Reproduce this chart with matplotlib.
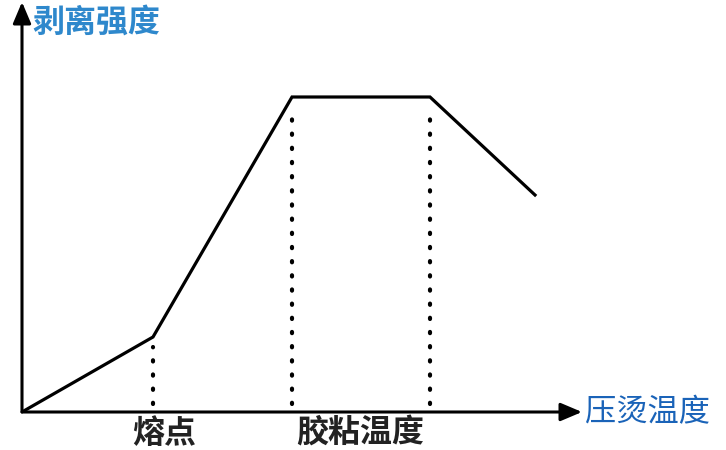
import matplotlib
matplotlib.use("Agg")
import matplotlib.pyplot as plt

plt.rcParams['font.family'] = ['Noto Sans CJK SC', 'DejaVu Sans']

# 曲线数据 (压烫温度, 剥离强度), 任意单位
temp = [0.0, 1.31, 2.70, 4.08, 5.13]
strength = [0.0, 0.75, 3.15, 3.15, 2.17]

# 标注点: 熔点 和 胶粘温度区间
mark_temp = [1.31, 2.70, 4.08]
mark_strength = [0.75, 3.15, 3.15]

bottom_labels = ['熔点', '胶粘温度']
bottom_label_x = [1.42, 3.38]
x_title = '压烫温度'
y_title = '剥离强度'

fig = plt.figure(figsize=(7.26, 4.5), dpi=100)
ax = fig.add_axes([22 / 726, 38 / 450, 560 / 726, 410 / 450])
ax.set_xlim(0, 5.6)
ax.set_ylim(0, 4.1)
ax.axis('off')

# 坐标轴箭头
arrow = dict(arrowstyle='-|>,head_length=1.3,head_width=0.55', color='black', lw=2.2,
             shrinkA=0, shrinkB=0)
ax.annotate('', xy=(1, 0), xytext=(0, 0), xycoords='axes fraction', arrowprops=arrow)
ax.annotate('', xy=(0, 1), xytext=(0, 0), xycoords='axes fraction', arrowprops=arrow)

# 虚线
for xv, yv in zip(mark_temp, mark_strength):
    ax.plot([xv, xv], [0.08, yv - 0.1], color='black', lw=3.0,
            linestyle=(0, (0.3, 3.1)), dash_capstyle='round')

ax.plot(temp, strength, color='black', lw=2.3, solid_joinstyle='miter')

for lab, xv in zip(bottom_labels, bottom_label_x):
    ax.text(xv, -0.22, lab, ha='center', va='center', fontsize=23,
            fontweight='bold', color='#222222', clip_on=False)

ax.text(1.005, 0.0, x_title, transform=ax.transAxes, ha='left', va='center',
        fontsize=22.5, color='#1a63b8', clip_on=False)
ax.text(0.10, 3.89, y_title, ha='left', va='center', fontsize=23,
        fontweight='bold', color='#2e88cc', clip_on=False)

fig.savefig('out.png', dpi=100, facecolor='white')
